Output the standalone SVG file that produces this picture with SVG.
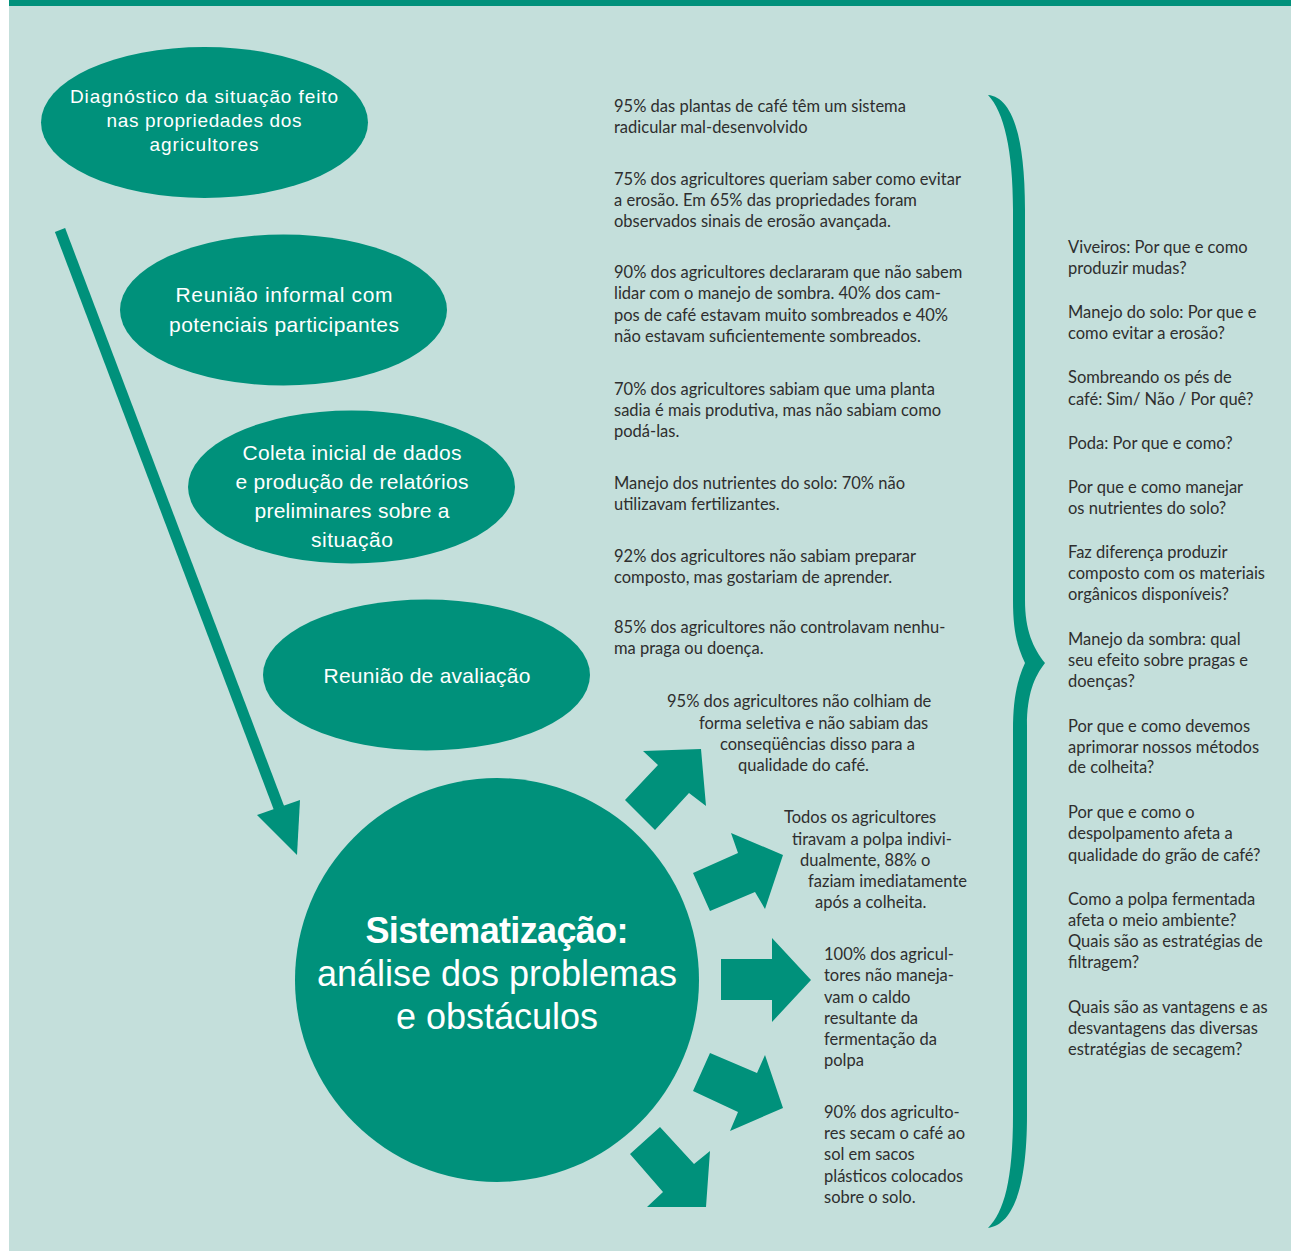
<svg xmlns="http://www.w3.org/2000/svg" width="1291" height="1251" viewBox="0 0 1291 1251">
  <style>
    .bg { fill: #c4dfdb; }
    .green { fill: #00917b; }
    .ell { fill: #00917b; }
    .etxt { font-family: "Liberation Sans", Arial, sans-serif; fill: #ffffff; text-anchor: middle; }
    .e1 { font-size: 19px; }
    .e2 { font-size: 21px; }
    .ctxt { font-family: "Liberation Sans", Arial, sans-serif; fill: #ffffff; text-anchor: middle; font-size: 36px; }
    .body { font-family: Lato, "Open Sans", sans-serif; font-size: 16.5px; fill: #2e2e2e; }
  </style>

  <!-- page background and top rule -->
  <rect x="0" y="0" width="1291" height="1251" fill="#ffffff"/>
  <rect class="bg" x="9" y="0" width="1282" height="1251"/>
  <rect class="green" x="9" y="0" width="1282" height="6"/>

  <!-- process steps -->
  <g id="step-diagnostico">
    <ellipse class="ell" cx="204.5" cy="122.5" rx="163.5" ry="75.5"/>
    <text class="etxt e1" x="204" y="103" textLength="268" lengthAdjust="spacing">Diagnóstico da situação feito</text>
    <text class="etxt e1" x="204" y="127" textLength="195" lengthAdjust="spacing">nas propriedades dos</text>
    <text class="etxt e1" x="204" y="151" textLength="109" lengthAdjust="spacing">agricultores</text>
  </g>

  <g id="step-reuniao-informal">
    <ellipse class="ell" cx="283.5" cy="310" rx="163.5" ry="75.5"/>
    <text class="etxt e2" x="284" y="302" textLength="217" lengthAdjust="spacing">Reunião informal com</text>
    <text class="etxt e2" x="284" y="332" textLength="230" lengthAdjust="spacing">potenciais participantes</text>
  </g>

  <g id="step-coleta">
    <ellipse class="ell" cx="351.5" cy="487" rx="163.5" ry="76.5"/>
    <text class="etxt e2" x="352" y="460" textLength="219" lengthAdjust="spacing">Coleta inicial de dados</text>
    <text class="etxt e2" x="352" y="489" textLength="233" lengthAdjust="spacing">e produção de relatórios</text>
    <text class="etxt e2" x="352" y="518" textLength="195" lengthAdjust="spacing">preliminares sobre a</text>
    <text class="etxt e2" x="352" y="547" textLength="82" lengthAdjust="spacing">situação</text>
  </g>

  <g id="step-avaliacao">
    <ellipse class="ell" cx="426.5" cy="675" rx="163.5" ry="75.5"/>
    <text class="etxt e2" x="427" y="683" textLength="207" lengthAdjust="spacing">Reunião de avaliação</text>
  </g>

  <g id="sistematizacao">
    <circle class="ell" cx="497" cy="980" r="202"/>
    <text class="ctxt" x="497" y="943" font-weight="bold" textLength="263" lengthAdjust="spacing">Sistematização:</text>
    <text class="ctxt" x="497" y="986" textLength="360" lengthAdjust="spacing">análise dos problemas</text>
    <text class="ctxt" x="497" y="1029" textLength="202" lengthAdjust="spacing">e obstáculos</text>
  </g>

  <!-- connectors: long flow arrow, block arrows out of the circle, brace -->
  <g id="connectors" class="green">
    <polygon points="54.9,232 65.1,228 284.1,806 273.9,810"/>
    <polygon points="257,815 300,800 297,855"/>

    <polygon points="625,800 658,765 643,751 701,749 706,806 689,793 655,830"/>
    <polygon points="693,873 738,853 731,833 783,855 765,909 755,892 710,911"/>
    <polygon points="721,959 772,959 772,938 811,980 772,1022 772,1000 721,1000"/>
    <polygon points="710,1053 757,1073 765,1055 783,1108 730,1131 738,1112 693,1091"/>
    <polygon points="660,1127 694,1164 710,1151 706,1207 647,1207 663,1192 630,1154"/>

    <path d="M 988 95 C 1010 97 1025 130 1025 210 L 1025 600 C 1025 630 1033 648 1045 663 C 1034 677 1027 695 1027 725 L 1027 1115 C 1027 1190 1012 1225 988 1228 C 1004 1212 1013 1180 1013 1115 L 1013 730 C 1013 700 1017 680 1025 663 C 1017 646 1013 630 1013 600 L 1013 210 C 1013 150 1004 112 988 95 Z"/>
  </g>

  <!-- survey findings -->
  <g id="findings" class="body">
    <text x="614" y="112">95% das plantas de café têm um sistema</text>
    <text x="614" y="133">radicular mal-desenvolvido</text>

    <text x="614" y="185">75% dos agricultores queriam saber como evitar</text>
    <text x="614" y="206">a erosão. Em 65% das propriedades foram</text>
    <text x="614" y="227">observados sinais de erosão avançada.</text>

    <text x="614" y="278">90% dos agricultores declararam que não sabem</text>
    <text x="614" y="299">lidar com o manejo de sombra. 40% dos cam-</text>
    <text x="614" y="321">pos de café estavam muito sombreados e 40%</text>
    <text x="614" y="342">não estavam suficientemente sombreados.</text>

    <text x="614" y="395">70% dos agricultores sabiam que uma planta</text>
    <text x="614" y="416">sadia é mais produtiva, mas não sabiam como</text>
    <text x="614" y="437">podá-las.</text>

    <text x="614" y="489">Manejo dos nutrientes do solo: 70% não</text>
    <text x="614" y="510">utilizavam fertilizantes.</text>

    <text x="614" y="562">92% dos agricultores não sabiam preparar</text>
    <text x="614" y="583">composto, mas gostariam de aprender.</text>

    <text x="614" y="633">85% dos agricultores não controlavam nenhu-</text>
    <text x="614" y="654">ma praga ou doença.</text>

    <text x="667" y="707">95% dos agricultores não colhiam de</text>
    <text x="699" y="729">forma seletiva e não sabiam das</text>
    <text x="720" y="750">conseqüências disso para a</text>
    <text x="738" y="771">qualidade do café.</text>

    <text x="784" y="823">Todos os agricultores</text>
    <text x="792" y="845">tiravam a polpa indivi-</text>
    <text x="800" y="866">dualmente, 88% o</text>
    <text x="808" y="887">faziam imediatamente</text>
    <text x="815" y="908">após a colheita.</text>

    <text x="824" y="960">100% dos agricul-</text>
    <text x="824" y="981">tores não maneja-</text>
    <text x="824" y="1003">vam o caldo</text>
    <text x="824" y="1024">resultante da</text>
    <text x="824" y="1045">fermentação da</text>
    <text x="824" y="1066">polpa</text>

    <text x="824" y="1118">90% dos agriculto-</text>
    <text x="824" y="1139">res secam o café ao</text>
    <text x="824" y="1160">sol em sacos</text>
    <text x="824" y="1182">plásticos colocados</text>
    <text x="824" y="1203">sobre o solo.</text>
  </g>

  <!-- questions raised -->
  <g id="questions" class="body">
    <text x="1068" y="253">Viveiros: Por que e como</text>
    <text x="1068" y="274">produzir mudas?</text>

    <text x="1068" y="318">Manejo do solo: Por que e</text>
    <text x="1068" y="339">como evitar a erosão?</text>

    <text x="1068" y="383">Sombreando os pés de</text>
    <text x="1068" y="405">café: Sim/ Não / Por quê?</text>

    <text x="1068" y="449">Poda: Por que e como?</text>

    <text x="1068" y="493">Por que e como manejar</text>
    <text x="1068" y="514">os nutrientes do solo?</text>

    <text x="1068" y="558">Faz diferença produzir</text>
    <text x="1068" y="579">composto com os materiais</text>
    <text x="1068" y="600">orgânicos disponíveis?</text>

    <text x="1068" y="645">Manejo da sombra: qual</text>
    <text x="1068" y="666">seu efeito sobre pragas e</text>
    <text x="1068" y="687">doenças?</text>

    <text x="1068" y="732">Por que e como devemos</text>
    <text x="1068" y="753">aprimorar nossos métodos</text>
    <text x="1068" y="773">de colheita?</text>

    <text x="1068" y="818">Por que e como o</text>
    <text x="1068" y="839">despolpamento afeta a</text>
    <text x="1068" y="861">qualidade do grão de café?</text>

    <text x="1068" y="905">Como a polpa fermentada</text>
    <text x="1068" y="926">afeta o meio ambiente?</text>
    <text x="1068" y="947">Quais são as estratégias de</text>
    <text x="1068" y="968">filtragem?</text>

    <text x="1068" y="1013">Quais são as vantagens e as</text>
    <text x="1068" y="1034">desvantagens das diversas</text>
    <text x="1068" y="1055">estratégias de secagem?</text>
  </g>
</svg>
